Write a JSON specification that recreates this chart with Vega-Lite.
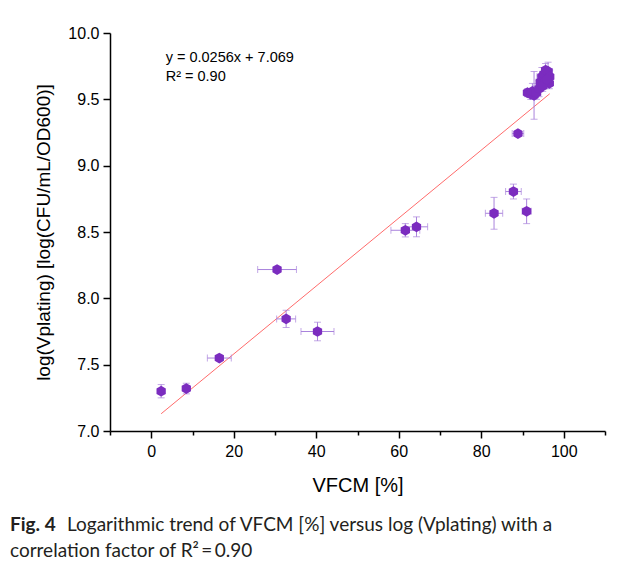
{
  "$schema": "https://vega.github.io/schema/vega-lite/v6.json",
  "width": 495,
  "height": 398,
  "autosize": {"type": "none"},
  "padding": {"left": 110, "top": 33, "right": 22, "bottom": 135},
  "background": "white",
  "config": {"view": {"stroke": null}, "font": "Liberation Sans"},
  "datasets": {
    "points": [
      {"x": 2.4, "y": 7.30, "xerr": 0, "yerr": 0.05},
      {"x": 8.5, "y": 7.32, "xerr": 0.5, "yerr": 0.04},
      {"x": 16.5, "y": 7.55, "xerr": 2.9, "yerr": 0.02},
      {"x": 30.5, "y": 8.217, "xerr": 4.7, "yerr": 0.01},
      {"x": 32.7, "y": 7.845, "xerr": 2.3, "yerr": 0.065},
      {"x": 40.3, "y": 7.75, "xerr": 4.0, "yerr": 0.07},
      {"x": 61.6, "y": 8.513, "xerr": 3.5, "yerr": 0.05},
      {"x": 64.3, "y": 8.539, "xerr": 2.7, "yerr": 0.075},
      {"x": 83.1, "y": 8.641, "xerr": 2.1, "yerr": 0.12},
      {"x": 87.8, "y": 8.805, "xerr": 1.9, "yerr": 0.056},
      {"x": 91.0, "y": 8.656, "xerr": 1.1, "yerr": 0.093},
      {"x": 88.9, "y": 9.242, "xerr": 1.4, "yerr": 0.02},
      {"x": 91.2, "y": 9.55, "xerr": 0.8, "yerr": 0.03},
      {"x": 92.0, "y": 9.54, "xerr": 1.0, "yerr": 0.04},
      {"x": 92.8, "y": 9.53, "xerr": 0.6, "yerr": 0.18},
      {"x": 92.4, "y": 9.56, "xerr": 1.2, "yerr": 0.06},
      {"x": 93.4, "y": 9.55, "xerr": 1.0, "yerr": 0.05},
      {"x": 94.0, "y": 9.58, "xerr": 0.8, "yerr": 0.06},
      {"x": 94.3, "y": 9.63, "xerr": 1.0, "yerr": 0.05},
      {"x": 94.7, "y": 9.67, "xerr": 1.2, "yerr": 0.07},
      {"x": 95.2, "y": 9.69, "xerr": 1.0, "yerr": 0.05},
      {"x": 95.6, "y": 9.72, "xerr": 0.8, "yerr": 0.05},
      {"x": 96.2, "y": 9.71, "xerr": 1.0, "yerr": 0.07},
      {"x": 96.6, "y": 9.67, "xerr": 0.8, "yerr": 0.05},
      {"x": 96.5, "y": 9.62, "xerr": 0.6, "yerr": 0.04},
      {"x": 95.4, "y": 9.63, "xerr": 1.0, "yerr": 0.05},
      {"x": 94.9, "y": 9.60, "xerr": 0.8, "yerr": 0.04},
      {"x": 95.9, "y": 9.65, "xerr": 1.0, "yerr": 0.06}
    ],
    "fit": [
      {"x": 2.4, "y": 7.130},
      {"x": 96.6, "y": 9.542}
    ]
  },
  "title": {
    "text": "Fig. 4",
    "subtitle": ["\u2060\u2003\u2003\u2003\u2002\u2009\u2009Logarithmic trend of VFCM [%] versus log (Vplating) with a", "correlation factor of R\u00b2\u2009=\u20090.90"],
    "orient": "bottom",
    "anchor": "start",
    "frame": "group",
    "dx": -100,
    "offset": 21,
    "font": "Lato",
    "fontSize": 19,
    "fontWeight": "bold",
    "color": "#231f20",
    "subtitleFont": "Lato",
    "subtitleFontSize": 19,
    "subtitleColor": "#231f20",
    "subtitleLineHeight": 26,
    "subtitlePadding": -19
  },
  "layer": [
    {
      "data": {"name": "fit"},
      "mark": {"type": "line", "color": "#ff6b6b", "strokeWidth": 1},
      "encoding": {
        "x": {
          "field": "x", "type": "quantitative", "title": "VFCM [%]",
          "scale": {"domain": [-10, 110], "nice": false, "zero": false},
          "axis": {
            "values": [-10, 0, 10, 20, 30, 40, 50, 60, 70, 80, 90, 100, 110],
            "labelExpr": "datum.value % 20 == 0 ? datum.label : ''",
            "tickSize": {"condition": {"test": "datum.value % 20 != 0", "value": 4}, "value": 7},
            "grid": false,
            "domainColor": "black", "domainWidth": 1.5,
            "tickColor": "black", "tickWidth": 1.5,
            "labelFont": "Liberation Sans", "labelFontSize": 16, "labelColor": "black",
            "labelPadding": 5, "labelFlush": false, "labelOverlap": false,
            "titleFont": "Liberation Sans", "titleFontSize": 20, "titleFontWeight": "normal",
            "titleColor": "black", "titlePadding": 16
          }
        },
        "y": {
          "field": "y", "type": "quantitative", "title": "log(Vplating) [log(CFU/mL/OD600)]",
          "scale": {"domain": [7, 10], "nice": false, "zero": false},
          "axis": {
            "values": [7, 7.25, 7.5, 7.75, 8, 8.25, 8.5, 8.75, 9, 9.25, 9.5, 9.75, 10],
            "labelExpr": "(datum.value * 2) % 1 == 0 ? format(datum.value, '.1f') : ''",
            "tickSize": {"condition": {"test": "(datum.value * 2) % 1 != 0", "value": 4}, "value": 7},
            "grid": false,
            "domainColor": "black", "domainWidth": 1.5,
            "tickColor": "black", "tickWidth": 1.5,
            "labelFont": "Liberation Sans", "labelFontSize": 16, "labelColor": "black",
            "labelPadding": 4, "labelFlush": false, "labelOverlap": false,
            "titleFont": "Liberation Sans", "titleFontSize": 19, "titleFontWeight": "normal",
            "titleColor": "black", "titlePadding": 14
          }
        }
      }
    },
    {
      "data": {"name": "points"},
      "mark": {"type": "errorbar", "color": "#a983dc", "thickness": 1, "ticks": {"size": 7, "thickness": 1}},
      "encoding": {
        "x": {"field": "x", "type": "quantitative", "title": "VFCM [%]"},
        "xError": {"field": "xerr"},
        "y": {"field": "y", "type": "quantitative", "title": "log(Vplating) [log(CFU/mL/OD600)]"}
      }
    },
    {
      "data": {"name": "points"},
      "mark": {"type": "errorbar", "color": "#a983dc", "thickness": 1, "ticks": {"size": 7, "thickness": 1}},
      "encoding": {
        "y": {"field": "y", "type": "quantitative", "title": "log(Vplating) [log(CFU/mL/OD600)]"},
        "yError": {"field": "yerr"},
        "x": {"field": "x", "type": "quantitative", "title": "VFCM [%]"}
      }
    },
    {
      "data": {"name": "points"},
      "mark": {
        "type": "point",
        "shape": "M0,-1L0.866,-0.5L0.866,0.5L0,1L-0.866,0.5L-0.866,-0.5Z",
        "filled": true, "size": 115, "color": "#7b2cbf", "opacity": 1
      },
      "encoding": {
        "x": {"field": "x", "type": "quantitative", "title": "VFCM [%]"},
        "y": {"field": "y", "type": "quantitative", "title": "log(Vplating) [log(CFU/mL/OD600)]"}
      }
    },
    {
      "data": {"values": [{}]},
      "mark": {
        "type": "text",
        "text": ["y = 0.0256x + 7.069", "R\u00b2 = 0.90"],
        "align": "left", "baseline": "top",
        "font": "Liberation Sans", "fontSize": 14.5, "lineHeight": 19, "color": "black"
      },
      "encoding": {
        "x": {"datum": 3.5},
        "y": {"datum": 9.865}
      }
    }
  ]
}
